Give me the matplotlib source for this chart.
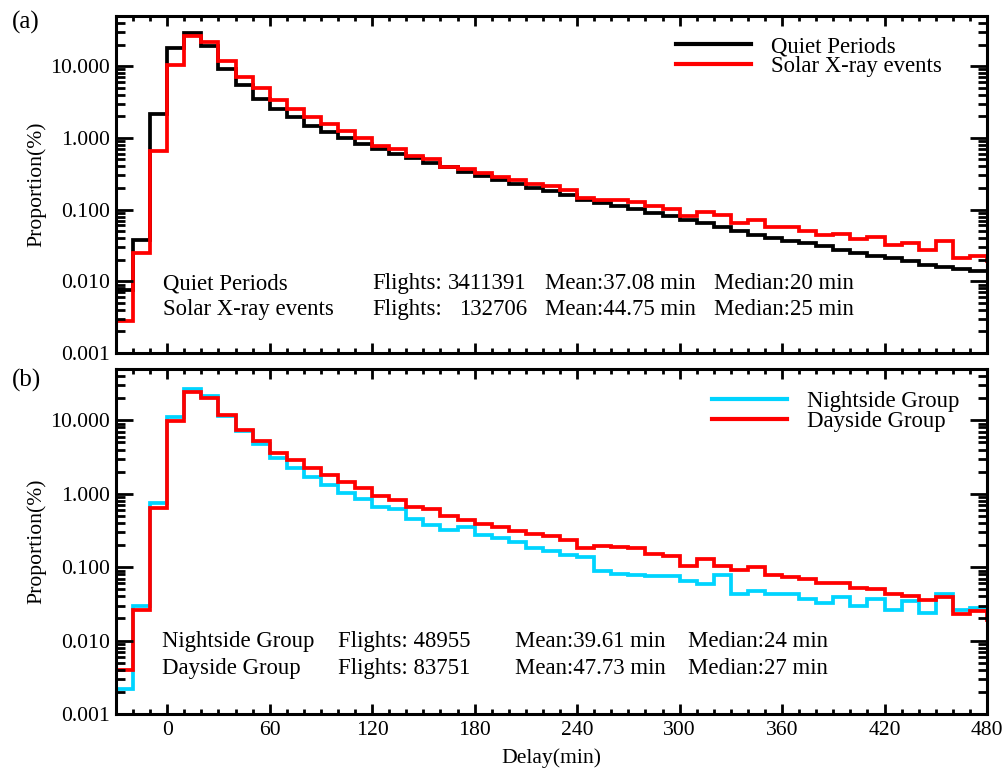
import matplotlib
matplotlib.use('Agg')
import matplotlib.pyplot as plt
import numpy as np
from matplotlib.ticker import MultipleLocator, LogLocator, FuncFormatter, NullFormatter
from matplotlib.lines import Line2D

plt.rcParams['font.family'] = ['Liberation Serif', 'DejaVu Serif']
plt.rcParams['font.size'] = 15.6

# ---------------- data ----------------
bin_edges = list(range(-40, 500, 10))   # 10-min delay bins, -40 .. 490

quiet = [0.0075, 0.0075, 0.038, 2.15, 17.7, 28.9, 18.9, 9.2, 5.4, 3.5,
         2.56, 1.93, 1.47, 1.22, 1.00, 0.82, 0.70, 0.60, 0.52, 0.45,
         0.39, 0.336, 0.29, 0.257, 0.226, 0.20, 0.18, 0.158, 0.138, 0.124,
         0.111, 0.102, 0.090, 0.0806, 0.071, 0.065, 0.057, 0.050, 0.0447, 0.040,
         0.037, 0.034, 0.0314, 0.0276, 0.0248, 0.0227, 0.021, 0.0189, 0.017, 0.0158,
         0.0148, 0.0137, 0.0137]

solar = [0.0034, 0.0028, 0.0245, 0.65, 10.3, 26.5, 21.4, 11.9, 7.1, 5.0,
         3.4, 2.56, 1.98, 1.55, 1.23, 1.00, 0.78, 0.70, 0.555, 0.50,
         0.395, 0.37, 0.32, 0.283, 0.255, 0.226, 0.212, 0.185, 0.144, 0.138,
         0.134, 0.129, 0.112, 0.103, 0.081, 0.093, 0.085, 0.065, 0.071, 0.058,
         0.0565, 0.0497, 0.0437, 0.046, 0.0389, 0.041, 0.0324, 0.034, 0.0275, 0.036,
         0.021, 0.0228, 0.019]

night = [0.0022, 0.0022, 0.0295, 0.75, 11.2, 27.1, 21.5, 11.4, 7.15, 4.8,
         3.1, 2.26, 1.70, 1.30, 1.02, 0.855, 0.67, 0.62, 0.458, 0.37,
         0.322, 0.35, 0.278, 0.251, 0.221, 0.183, 0.164, 0.148, 0.136, 0.0877,
         0.0815, 0.079, 0.075, 0.075, 0.0655, 0.059, 0.077, 0.0435, 0.048, 0.0435,
         0.0435, 0.037, 0.033, 0.039, 0.030, 0.0367, 0.026, 0.035, 0.024, 0.0435,
         0.0257, 0.0282, 0.0282]

day = [0.005, 0.0040, 0.0257, 0.645, 9.8, 24.6, 20.4, 11.7, 7.4, 5.2,
       3.6, 2.87, 2.21, 1.80, 1.43, 1.18, 0.94, 0.82, 0.66, 0.625,
       0.49, 0.436, 0.393, 0.347, 0.312, 0.286, 0.269, 0.237, 0.181, 0.192,
       0.186, 0.181, 0.151, 0.140, 0.105, 0.131, 0.103, 0.092, 0.0995, 0.079,
       0.0735, 0.069, 0.061, 0.061, 0.052, 0.051, 0.0435, 0.041, 0.036, 0.039,
       0.023, 0.025, 0.019]

labels_a = ['Quiet Periods', 'Solar X-ray events']
labels_b = ['Nightside Group', 'Dayside Group']
flights_a = ['3411391', '132706']
means_a = ['37.08', '44.75']
medians_a = ['20', '25']
flights_b = ['48955', '83751']
means_b = ['39.61', '47.73']
medians_b = ['24', '27']

x_ticks = [0, 60, 120, 180, 240, 300, 360, 420, 480]

C_BLACK = 'black'
C_RED = '#ff0000'
C_CYAN = '#00d4ff'
LW = 2.7
TXT = 16.4   # annotation / legend text size

# ---------------- figure ----------------
fig = plt.figure(figsize=(10.08, 7.71), dpi=100)
ax1 = fig.add_axes([116/1008, 1-353/771, 871/1008, 337/771])
ax2 = fig.add_axes([116/1008, 1-714/771, 871/1008, 345/771])


def style(ax, show_x):
    ax.set_yscale('log')
    ax.set_xlim(-30, 480)
    ax.set_ylim(0.001, 50)
    ax.set_xticks(x_ticks)
    ax.xaxis.set_minor_locator(MultipleLocator(10))
    ax.yaxis.set_major_locator(LogLocator(base=10, numticks=10))
    ax.yaxis.set_minor_locator(LogLocator(base=10, subs=np.arange(2, 10), numticks=20))
    ax.yaxis.set_major_formatter(FuncFormatter(lambda v, p: f'{v:.3f}'))
    ax.yaxis.set_minor_formatter(NullFormatter())
    ax.tick_params(which='both', direction='in', top=True, right=True, width=2.0)
    ax.tick_params(axis='y', which='major', length=12.5, pad=4.5)
    ax.tick_params(axis='y', which='minor', length=6.5)
    ax.tick_params(axis='x', which='major', length=7, pad=5)
    ax.tick_params(axis='x', which='minor', length=3.8)
    ax.tick_params(axis='x', labelbottom=show_x)
    for s in ax.spines.values():
        s.set_linewidth(2.2)


style(ax1, False)
style(ax2, True)

ax1.stairs(quiet, bin_edges, baseline=None, color=C_BLACK, lw=LW)
ax1.stairs(solar, bin_edges, baseline=None, color=C_RED, lw=LW)
ax2.stairs(night, bin_edges, baseline=None, color=C_CYAN, lw=LW)
ax2.stairs(day, bin_edges, baseline=None, color=C_RED, lw=LW)

# y labels (one per panel)
fig.text(36/1008, 1-184/771, 'Proportion(%)', rotation=90, ha='center', va='center')
fig.text(36/1008, 1-541/771, 'Proportion(%)', rotation=90, ha='center', va='center')
ax2.set_xlabel('Delay(min)', labelpad=6)

# legends
h_a = [Line2D([], [], color=C_BLACK, lw=3), Line2D([], [], color=C_RED, lw=3)]
leg1 = ax1.legend(h_a, labels_a, loc='upper right', bbox_to_anchor=(0.948, 0.94),
                  frameon=False, handlelength=3.3, handletextpad=0.85,
                  labelspacing=-0.07, borderpad=0, borderaxespad=0, fontsize=TXT)
h_b = [Line2D([], [], color=C_CYAN, lw=3), Line2D([], [], color=C_RED, lw=3)]
leg2 = ax2.legend(h_b, labels_b, loc='upper right', bbox_to_anchor=(0.968, 0.935),
                  frameon=False, handlelength=3.3, handletextpad=0.85,
                  labelspacing=-0.07, borderpad=0, borderaxespad=0, fontsize=TXT)

# annotations panel (a)
rows_a = [0.205, 0.128]
for i in range(2):
    y = rows_a[i]
    ax1.text(0.054, y, labels_a[i], transform=ax1.transAxes, va='center', ha='left', fontsize=TXT)
    ax1.text(0.294, y, 'Flights:', transform=ax1.transAxes, va='center', ha='left', fontsize=TXT)
    ax1.text(0.4715, y, flights_a[i], transform=ax1.transAxes, va='center', ha='right', fontsize=TXT)
    ax1.text(0.4925, y, f'Mean:{means_a[i]} min', transform=ax1.transAxes, va='center', ha='left', fontsize=TXT)
    ax1.text(0.6866, y, f'Median:{medians_a[i]} min', transform=ax1.transAxes, va='center', ha='left', fontsize=TXT)

rows_b = [0.209, 0.131]
for i in range(2):
    y = rows_b[i]
    ax2.text(0.0528, y, labels_b[i], transform=ax2.transAxes, va='center', ha='left', fontsize=TXT)
    ax2.text(0.2549, y, f'Flights: {flights_b[i]}', transform=ax2.transAxes, va='center', ha='left', fontsize=TXT)
    ax2.text(0.458, y, f'Mean:{means_b[i]} min', transform=ax2.transAxes, va='center', ha='left', fontsize=TXT)
    ax2.text(0.6567, y, f'Median:{medians_b[i]} min', transform=ax2.transAxes, va='center', ha='left', fontsize=TXT)

fig.text(12/1008, 1-22/771, '(a)', ha='left', va='center', fontsize=18)
fig.text(12/1008, 1-380/771, '(b)', ha='left', va='center', fontsize=18)

fig.savefig('out.png', dpi=100)
